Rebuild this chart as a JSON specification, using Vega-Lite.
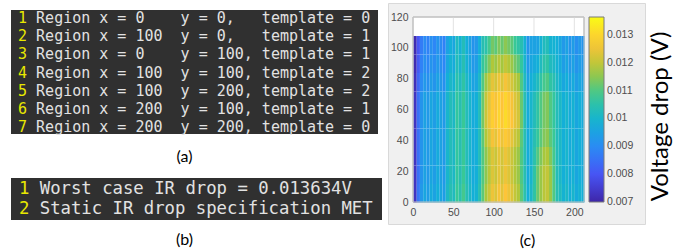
{
"$schema": "https://vega.github.io/schema/vega-lite/v6.json",
"padding": {"left": 11, "top": 2, "right": 0, "bottom": 0},
"background": "white",
"spacing": 5,
"config": {"view": {"stroke": null}, "font": "Liberation Sans"},
"resolve": {"legend": {"color": "independent"}},
"hconcat": [
{
"spacing": 14,
"vconcat": [
{
"width": 367, "height": 131,
"data": {"values": [
{"n": 1, "s": "Region x = 0\u00a0\u00a0\u00a0\u00a0y = 0,\u00a0\u00a0\u00a0template = 0"},
{"n": 2, "s": "Region x = 100\u00a0\u00a0y = 0,\u00a0\u00a0\u00a0template = 1"},
{"n": 3, "s": "Region x = 0\u00a0\u00a0\u00a0\u00a0y = 100, template = 1"},
{"n": 4, "s": "Region x = 100\u00a0\u00a0y = 100, template = 2"},
{"n": 5, "s": "Region x = 100\u00a0\u00a0y = 200, template = 2"},
{"n": 6, "s": "Region x = 200\u00a0\u00a0y = 100, template = 1"},
{"n": 7, "s": "Region x = 200\u00a0\u00a0y = 200, template = 0"}
]},
"layer": [
{"data": {"values": [{"box": 1}]},
"mark": {"type": "rect", "fill": "#303030"},
"encoding": {
"x": {"datum": -0.774, "type": "quantitative", "scale": {"domain": [-0.774, 39.82], "nice": false, "zero": false}},
"x2": {"datum": 39.82},
"y": {"datum": 0.56, "type": "quantitative", "scale": {"domain": [0.175, 7.38], "reverse": true, "nice": false, "zero": false}, "axis": null},
"y2": {"datum": 7.38}
}},
{"mark": {"type": "text", "font": "DejaVu Sans Mono", "fontSize": 15, "align": "left", "baseline": "middle", "color": "#e8e800"},
"encoding": {"text": {"field": "n", "type": "nominal"},
"y": {"field": "n", "type": "quantitative", "scale": {"domain": [0.175, 7.38], "reverse": true, "nice": false, "zero": false}, "axis": null},
"x": {"datum": 0, "type": "quantitative", "scale": {"domain": [-0.774, 39.82], "nice": false, "zero": false},
"axis": {"domain": false, "ticks": false, "labels": false, "grid": false, "title": "(a)", "titleFont": "Lato", "titleFontSize": 16, "titleFontWeight": "normal", "titleColor": "#000000", "titlePadding": 14, "titleX": 173}}}},
{"mark": {"type": "text", "font": "DejaVu Sans Mono", "fontSize": 15, "align": "left", "baseline": "middle", "color": "#e2e2e2"},
"encoding": {"text": {"field": "s", "type": "nominal"},
"y": {"field": "n", "type": "quantitative", "scale": {"domain": [0.175, 7.38], "reverse": true, "nice": false, "zero": false}, "axis": null},
"x": {"datum": 2, "type": "quantitative", "scale": {"domain": [-0.774, 39.82], "nice": false, "zero": false},
"axis": {"domain": false, "ticks": false, "labels": false, "grid": false, "title": "(a)", "titleFont": "Lato", "titleFontSize": 16, "titleFontWeight": "normal", "titleColor": "#000000", "titlePadding": 14, "titleX": 173}}}}
]
},
{
"width": 371, "height": 42,
"view": {"fill": "#303030", "stroke": null},
"data": {"values": [
{"n": 1, "s": "Worst case IR drop = 0.013634V"},
{"n": 2, "s": "Static IR drop specification MET"}
]},
"encoding": {
"y": {"field": "n", "type": "ordinal", "scale": {"type": "point", "padding": 0.6}, "axis": null}
},
"layer": [
{"mark": {"type": "text", "font": "DejaVu Sans Mono", "fontSize": 17.3, "align": "left", "baseline": "middle", "color": "#e8e800"},
"encoding": {"text": {"field": "n", "type": "nominal"},
"x": {"datum": 0, "type": "quantitative", "scale": {"domain": [-0.76, 34.88], "nice": false, "zero": false},
"axis": {"domain": false, "ticks": false, "labels": false, "grid": false, "title": "(b)", "titleFont": "Lato", "titleFontSize": 16, "titleFontWeight": "normal", "titleColor": "#000000", "titlePadding": 11, "titleX": 173}}}},
{"mark": {"type": "text", "font": "DejaVu Sans Mono", "fontSize": 17.3, "align": "left", "baseline": "middle", "color": "#e2e2e2"},
"encoding": {"text": {"field": "s", "type": "nominal"},
"x": {"datum": 2, "type": "quantitative", "scale": {"domain": [-0.76, 34.88], "nice": false, "zero": false},
"axis": {"domain": false, "ticks": false, "labels": false, "grid": false, "title": "(b)", "titleFont": "Lato", "titleFontSize": 16, "titleFontWeight": "normal", "titleColor": "#000000", "titlePadding": 11, "titleX": 173}}}}
]
}
]
},
{
"width": 257, "height": 221,
"view": {"fill": "#f0f0f0", "stroke": "#d9d9d9"},
"resolve": {"legend": {"color": "independent"}, "axis": {"y": "independent"}},
"layer": [
{
"data": {"values": [{"box": 1}]},
"mark": {"type": "rect", "fill": "white", "stroke": "#b8b8b8", "strokeWidth": 1},
"encoding": {
"x": {"datum": 0, "type": "quantitative", "scale": {"domain": [0, 212], "range": [25, 196], "nice": false, "zero": false}},
"x2": {"datum": 212},
"y": {"datum": 0, "type": "quantitative", "scale": {"domain": [0, 120], "range": [199, 14], "nice": false, "zero": false}, "axis": null},
"y2": {"datum": 120}
}
},
{
"data": {"values": [{"g": 50}, {"g": 100}, {"g": 150}, {"g": 200}]},
"mark": {"type": "rule", "color": "#e2e2e2", "strokeWidth": 1},
"encoding": {
"x": {"field": "g", "type": "quantitative", "scale": {"domain": [0, 212], "range": [25, 196], "nice": false, "zero": false}},
"y": {"datum": 0, "type": "quantitative", "scale": {"domain": [0, 120], "range": [199, 14], "nice": false, "zero": false},
"axis": {"orient": "right", "offset": 0, "domain": false, "ticks": false, "labels": false, "grid": false, "title": "Voltage drop (V)", "titleAngle": 270, "titleBaseline": "top", "titleAlign": "center", "titleFont": "Lato", "titleFontSize": 24, "titleFontWeight": "normal", "titleColor": "#000000", "titlePadding": 3, "titleY": 113}},
"y2": {"datum": 120}
}
},
{
"data": {"values": [
{"x":0,"y":0,"v":0.0073},{"x":0,"y":12,"v":0.0073},{"x":0,"y":24,"v":0.0073},{"x":0,"y":36,"v":0.0073},{"x":0,"y":48,"v":0.0073},{"x":0,"y":60,"v":0.0073},{"x":0,"y":72,"v":0.0072},{"x":0,"y":84,"v":0.0071},{"x":0,"y":96,"v":0.0071},
{"x":4,"y":0,"v":0.0086},{"x":4,"y":12,"v":0.0085},{"x":4,"y":24,"v":0.0085},{"x":4,"y":36,"v":0.0085},{"x":4,"y":48,"v":0.0085},{"x":4,"y":60,"v":0.0085},{"x":4,"y":72,"v":0.0083},{"x":4,"y":84,"v":0.0081},{"x":4,"y":96,"v":0.008},
{"x":8,"y":0,"v":0.0093},{"x":8,"y":12,"v":0.0092},{"x":8,"y":24,"v":0.0092},{"x":8,"y":36,"v":0.0092},{"x":8,"y":48,"v":0.0092},{"x":8,"y":60,"v":0.0092},{"x":8,"y":72,"v":0.009},{"x":8,"y":84,"v":0.0088},{"x":8,"y":96,"v":0.0087},
{"x":12,"y":0,"v":0.0096},{"x":12,"y":12,"v":0.0095},{"x":12,"y":24,"v":0.0095},{"x":12,"y":36,"v":0.0095},{"x":12,"y":48,"v":0.0095},{"x":12,"y":60,"v":0.0095},{"x":12,"y":72,"v":0.0093},{"x":12,"y":84,"v":0.0091},{"x":12,"y":96,"v":0.009},
{"x":16,"y":0,"v":0.0094},{"x":16,"y":12,"v":0.0093},{"x":16,"y":24,"v":0.0093},{"x":16,"y":36,"v":0.0093},{"x":16,"y":48,"v":0.0093},{"x":16,"y":60,"v":0.0093},{"x":16,"y":72,"v":0.0091},{"x":16,"y":84,"v":0.0089},{"x":16,"y":96,"v":0.0088},
{"x":20,"y":0,"v":0.0097},{"x":20,"y":12,"v":0.0096},{"x":20,"y":24,"v":0.0096},{"x":20,"y":36,"v":0.0096},{"x":20,"y":48,"v":0.0096},{"x":20,"y":60,"v":0.0096},{"x":20,"y":72,"v":0.0094},{"x":20,"y":84,"v":0.0092},{"x":20,"y":96,"v":0.0091},
{"x":24,"y":0,"v":0.0095},{"x":24,"y":12,"v":0.0094},{"x":24,"y":24,"v":0.0094},{"x":24,"y":36,"v":0.0094},{"x":24,"y":48,"v":0.0094},{"x":24,"y":60,"v":0.0094},{"x":24,"y":72,"v":0.0092},{"x":24,"y":84,"v":0.009},{"x":24,"y":96,"v":0.0089},
{"x":28,"y":0,"v":0.0098},{"x":28,"y":12,"v":0.0097},{"x":28,"y":24,"v":0.0097},{"x":28,"y":36,"v":0.0097},{"x":28,"y":48,"v":0.0097},{"x":28,"y":60,"v":0.0097},{"x":28,"y":72,"v":0.0095},{"x":28,"y":84,"v":0.0093},{"x":28,"y":96,"v":0.0092},
{"x":32,"y":0,"v":0.0096},{"x":32,"y":12,"v":0.0095},{"x":32,"y":24,"v":0.0095},{"x":32,"y":36,"v":0.0095},{"x":32,"y":48,"v":0.0095},{"x":32,"y":60,"v":0.0095},{"x":32,"y":72,"v":0.0093},{"x":32,"y":84,"v":0.0091},{"x":32,"y":96,"v":0.009},
{"x":36,"y":0,"v":0.0094},{"x":36,"y":12,"v":0.0093},{"x":36,"y":24,"v":0.0093},{"x":36,"y":36,"v":0.0093},{"x":36,"y":48,"v":0.0093},{"x":36,"y":60,"v":0.0093},{"x":36,"y":72,"v":0.0091},{"x":36,"y":84,"v":0.0089},{"x":36,"y":96,"v":0.0088},
{"x":40,"y":0,"v":0.0101},{"x":40,"y":12,"v":0.01},{"x":40,"y":24,"v":0.01},{"x":40,"y":36,"v":0.01},{"x":40,"y":48,"v":0.01},{"x":40,"y":60,"v":0.01},{"x":40,"y":72,"v":0.0098},{"x":40,"y":84,"v":0.0096},{"x":40,"y":96,"v":0.0095},
{"x":44,"y":0,"v":0.0104},{"x":44,"y":12,"v":0.0103},{"x":44,"y":24,"v":0.0103},{"x":44,"y":36,"v":0.0103},{"x":44,"y":48,"v":0.0103},{"x":44,"y":60,"v":0.0103},{"x":44,"y":72,"v":0.0101},{"x":44,"y":84,"v":0.0099},{"x":44,"y":96,"v":0.0098},
{"x":48,"y":0,"v":0.0102},{"x":48,"y":12,"v":0.0101},{"x":48,"y":24,"v":0.0101},{"x":48,"y":36,"v":0.0101},{"x":48,"y":48,"v":0.0101},{"x":48,"y":60,"v":0.0101},{"x":48,"y":72,"v":0.0099},{"x":48,"y":84,"v":0.0097},{"x":48,"y":96,"v":0.0096},
{"x":52,"y":0,"v":0.0108},{"x":52,"y":12,"v":0.0107},{"x":52,"y":24,"v":0.0107},{"x":52,"y":36,"v":0.0107},{"x":52,"y":48,"v":0.0107},{"x":52,"y":60,"v":0.0107},{"x":52,"y":72,"v":0.0105},{"x":52,"y":84,"v":0.0103},{"x":52,"y":96,"v":0.0102},
{"x":56,"y":0,"v":0.0105},{"x":56,"y":12,"v":0.0104},{"x":56,"y":24,"v":0.0104},{"x":56,"y":36,"v":0.0104},{"x":56,"y":48,"v":0.0104},{"x":56,"y":60,"v":0.0104},{"x":56,"y":72,"v":0.0102},{"x":56,"y":84,"v":0.01},{"x":56,"y":96,"v":0.0099},
{"x":60,"y":0,"v":0.0109},{"x":60,"y":12,"v":0.0108},{"x":60,"y":24,"v":0.0108},{"x":60,"y":36,"v":0.0108},{"x":60,"y":48,"v":0.0108},{"x":60,"y":60,"v":0.0108},{"x":60,"y":72,"v":0.0106},{"x":60,"y":84,"v":0.0104},{"x":60,"y":96,"v":0.0103},
{"x":64,"y":0,"v":0.0104},{"x":64,"y":12,"v":0.0103},{"x":64,"y":24,"v":0.0103},{"x":64,"y":36,"v":0.0103},{"x":64,"y":48,"v":0.0103},{"x":64,"y":60,"v":0.0103},{"x":64,"y":72,"v":0.0101},{"x":64,"y":84,"v":0.0099},{"x":64,"y":96,"v":0.0098},
{"x":68,"y":0,"v":0.0101},{"x":68,"y":12,"v":0.01},{"x":68,"y":24,"v":0.01},{"x":68,"y":36,"v":0.01},{"x":68,"y":48,"v":0.01},{"x":68,"y":60,"v":0.01},{"x":68,"y":72,"v":0.0098},{"x":68,"y":84,"v":0.0096},{"x":68,"y":96,"v":0.0095},
{"x":72,"y":0,"v":0.0098},{"x":72,"y":12,"v":0.0097},{"x":72,"y":24,"v":0.0097},{"x":72,"y":36,"v":0.0097},{"x":72,"y":48,"v":0.0097},{"x":72,"y":60,"v":0.0097},{"x":72,"y":72,"v":0.0095},{"x":72,"y":84,"v":0.0093},{"x":72,"y":96,"v":0.0092},
{"x":76,"y":0,"v":0.0099},{"x":76,"y":12,"v":0.0098},{"x":76,"y":24,"v":0.0098},{"x":76,"y":36,"v":0.0098},{"x":76,"y":48,"v":0.0098},{"x":76,"y":60,"v":0.0098},{"x":76,"y":72,"v":0.0096},{"x":76,"y":84,"v":0.0094},{"x":76,"y":96,"v":0.0093},
{"x":80,"y":0,"v":0.0104},{"x":80,"y":12,"v":0.0103},{"x":80,"y":24,"v":0.0103},{"x":80,"y":36,"v":0.0103},{"x":80,"y":48,"v":0.0103},{"x":80,"y":60,"v":0.0103},{"x":80,"y":72,"v":0.0101},{"x":80,"y":84,"v":0.0099},{"x":80,"y":96,"v":0.0098},
{"x":84,"y":0,"v":0.0111},{"x":84,"y":12,"v":0.011},{"x":84,"y":24,"v":0.011},{"x":84,"y":36,"v":0.0111},{"x":84,"y":48,"v":0.0113},{"x":84,"y":60,"v":0.0112},{"x":84,"y":72,"v":0.011},{"x":84,"y":84,"v":0.0107},{"x":84,"y":96,"v":0.0104},
{"x":88,"y":0,"v":0.0117},{"x":88,"y":12,"v":0.0115},{"x":88,"y":24,"v":0.0115},{"x":88,"y":36,"v":0.0118},{"x":88,"y":48,"v":0.0121},{"x":88,"y":60,"v":0.012},{"x":88,"y":72,"v":0.0116},{"x":88,"y":84,"v":0.011},{"x":88,"y":96,"v":0.0105},
{"x":92,"y":0,"v":0.0121},{"x":92,"y":12,"v":0.0119},{"x":92,"y":24,"v":0.0119},{"x":92,"y":36,"v":0.0122},{"x":92,"y":48,"v":0.0125},{"x":92,"y":60,"v":0.0124},{"x":92,"y":72,"v":0.012},{"x":92,"y":84,"v":0.0114},{"x":92,"y":96,"v":0.0109},
{"x":96,"y":0,"v":0.0125},{"x":96,"y":12,"v":0.0123},{"x":96,"y":24,"v":0.0123},{"x":96,"y":36,"v":0.0126},{"x":96,"y":48,"v":0.0129},{"x":96,"y":60,"v":0.0128},{"x":96,"y":72,"v":0.0124},{"x":96,"y":84,"v":0.0118},{"x":96,"y":96,"v":0.0113},
{"x":100,"y":0,"v":0.0123},{"x":100,"y":12,"v":0.0121},{"x":100,"y":24,"v":0.0121},{"x":100,"y":36,"v":0.0124},{"x":100,"y":48,"v":0.0127},{"x":100,"y":60,"v":0.0126},{"x":100,"y":72,"v":0.0122},{"x":100,"y":84,"v":0.0116},{"x":100,"y":96,"v":0.0111},
{"x":104,"y":0,"v":0.0126},{"x":104,"y":12,"v":0.0124},{"x":104,"y":24,"v":0.0124},{"x":104,"y":36,"v":0.0127},{"x":104,"y":48,"v":0.013},{"x":104,"y":60,"v":0.0129},{"x":104,"y":72,"v":0.0125},{"x":104,"y":84,"v":0.0119},{"x":104,"y":96,"v":0.0114},
{"x":108,"y":0,"v":0.0124},{"x":108,"y":12,"v":0.0122},{"x":108,"y":24,"v":0.0122},{"x":108,"y":36,"v":0.0125},{"x":108,"y":48,"v":0.0128},{"x":108,"y":60,"v":0.0127},{"x":108,"y":72,"v":0.0123},{"x":108,"y":84,"v":0.0117},{"x":108,"y":96,"v":0.0112},
{"x":112,"y":0,"v":0.0127},{"x":112,"y":12,"v":0.0125},{"x":112,"y":24,"v":0.0125},{"x":112,"y":36,"v":0.0128},{"x":112,"y":48,"v":0.0131},{"x":112,"y":60,"v":0.013},{"x":112,"y":72,"v":0.0126},{"x":112,"y":84,"v":0.012},{"x":112,"y":96,"v":0.0115},
{"x":116,"y":0,"v":0.0125},{"x":116,"y":12,"v":0.0123},{"x":116,"y":24,"v":0.0123},{"x":116,"y":36,"v":0.0126},{"x":116,"y":48,"v":0.0129},{"x":116,"y":60,"v":0.0128},{"x":116,"y":72,"v":0.0124},{"x":116,"y":84,"v":0.0118},{"x":116,"y":96,"v":0.0113},
{"x":120,"y":0,"v":0.0123},{"x":120,"y":12,"v":0.0121},{"x":120,"y":24,"v":0.0121},{"x":120,"y":36,"v":0.0124},{"x":120,"y":48,"v":0.0127},{"x":120,"y":60,"v":0.0126},{"x":120,"y":72,"v":0.0122},{"x":120,"y":84,"v":0.0116},{"x":120,"y":96,"v":0.0111},
{"x":124,"y":0,"v":0.012},{"x":124,"y":12,"v":0.0118},{"x":124,"y":24,"v":0.0118},{"x":124,"y":36,"v":0.0121},{"x":124,"y":48,"v":0.0124},{"x":124,"y":60,"v":0.0123},{"x":124,"y":72,"v":0.0119},{"x":124,"y":84,"v":0.0113},{"x":124,"y":96,"v":0.0108},
{"x":128,"y":0,"v":0.0118},{"x":128,"y":12,"v":0.0116},{"x":128,"y":24,"v":0.0116},{"x":128,"y":36,"v":0.0119},{"x":128,"y":48,"v":0.0122},{"x":128,"y":60,"v":0.0121},{"x":128,"y":72,"v":0.0117},{"x":128,"y":84,"v":0.0111},{"x":128,"y":96,"v":0.0106},
{"x":132,"y":0,"v":0.0111},{"x":132,"y":12,"v":0.011},{"x":132,"y":24,"v":0.011},{"x":132,"y":36,"v":0.0111},{"x":132,"y":48,"v":0.0113},{"x":132,"y":60,"v":0.0112},{"x":132,"y":72,"v":0.011},{"x":132,"y":84,"v":0.0107},{"x":132,"y":96,"v":0.0104},
{"x":136,"y":0,"v":0.0105},{"x":136,"y":12,"v":0.0104},{"x":136,"y":24,"v":0.0104},{"x":136,"y":36,"v":0.0104},{"x":136,"y":48,"v":0.0104},{"x":136,"y":60,"v":0.0104},{"x":136,"y":72,"v":0.0102},{"x":136,"y":84,"v":0.01},{"x":136,"y":96,"v":0.0099},
{"x":140,"y":0,"v":0.0098},{"x":140,"y":12,"v":0.0097},{"x":140,"y":24,"v":0.0097},{"x":140,"y":36,"v":0.0097},{"x":140,"y":48,"v":0.0097},{"x":140,"y":60,"v":0.0097},{"x":140,"y":72,"v":0.0095},{"x":140,"y":84,"v":0.0093},{"x":140,"y":96,"v":0.0092},
{"x":144,"y":0,"v":0.0101},{"x":144,"y":12,"v":0.01},{"x":144,"y":24,"v":0.01},{"x":144,"y":36,"v":0.01},{"x":144,"y":48,"v":0.01},{"x":144,"y":60,"v":0.01},{"x":144,"y":72,"v":0.0098},{"x":144,"y":84,"v":0.0096},{"x":144,"y":96,"v":0.0095},
{"x":148,"y":0,"v":0.0106},{"x":148,"y":12,"v":0.0106},{"x":148,"y":24,"v":0.0105},{"x":148,"y":36,"v":0.0104},{"x":148,"y":48,"v":0.0103},{"x":148,"y":60,"v":0.0103},{"x":148,"y":72,"v":0.01},{"x":148,"y":84,"v":0.0097},{"x":148,"y":96,"v":0.0095},
{"x":152,"y":0,"v":0.0112},{"x":152,"y":12,"v":0.0112},{"x":152,"y":24,"v":0.011},{"x":152,"y":36,"v":0.0107},{"x":152,"y":48,"v":0.0106},{"x":152,"y":60,"v":0.0106},{"x":152,"y":72,"v":0.0102},{"x":152,"y":84,"v":0.0098},{"x":152,"y":96,"v":0.0095},
{"x":156,"y":0,"v":0.0116},{"x":156,"y":12,"v":0.0116},{"x":156,"y":24,"v":0.0114},{"x":156,"y":36,"v":0.0111},{"x":156,"y":48,"v":0.011},{"x":156,"y":60,"v":0.011},{"x":156,"y":72,"v":0.0106},{"x":156,"y":84,"v":0.0102},{"x":156,"y":96,"v":0.0099},
{"x":160,"y":0,"v":0.0119},{"x":160,"y":12,"v":0.0119},{"x":160,"y":24,"v":0.0117},{"x":160,"y":36,"v":0.0114},{"x":160,"y":48,"v":0.0113},{"x":160,"y":60,"v":0.0113},{"x":160,"y":72,"v":0.0109},{"x":160,"y":84,"v":0.0105},{"x":160,"y":96,"v":0.0102},
{"x":164,"y":0,"v":0.012},{"x":164,"y":12,"v":0.012},{"x":164,"y":24,"v":0.0118},{"x":164,"y":36,"v":0.0115},{"x":164,"y":48,"v":0.0114},{"x":164,"y":60,"v":0.0114},{"x":164,"y":72,"v":0.011},{"x":164,"y":84,"v":0.0106},{"x":164,"y":96,"v":0.0103},
{"x":168,"y":0,"v":0.0116},{"x":168,"y":12,"v":0.0116},{"x":168,"y":24,"v":0.0114},{"x":168,"y":36,"v":0.0111},{"x":168,"y":48,"v":0.011},{"x":168,"y":60,"v":0.011},{"x":168,"y":72,"v":0.0106},{"x":168,"y":84,"v":0.0102},{"x":168,"y":96,"v":0.0099},
{"x":172,"y":0,"v":0.011},{"x":172,"y":12,"v":0.011},{"x":172,"y":24,"v":0.0109},{"x":172,"y":36,"v":0.0108},{"x":172,"y":48,"v":0.0107},{"x":172,"y":60,"v":0.0107},{"x":172,"y":72,"v":0.0104},{"x":172,"y":84,"v":0.0101},{"x":172,"y":96,"v":0.0099},
{"x":176,"y":0,"v":0.0104},{"x":176,"y":12,"v":0.0103},{"x":176,"y":24,"v":0.0103},{"x":176,"y":36,"v":0.0103},{"x":176,"y":48,"v":0.0103},{"x":176,"y":60,"v":0.0103},{"x":176,"y":72,"v":0.0101},{"x":176,"y":84,"v":0.0099},{"x":176,"y":96,"v":0.0098},
{"x":180,"y":0,"v":0.0102},{"x":180,"y":12,"v":0.0101},{"x":180,"y":24,"v":0.0101},{"x":180,"y":36,"v":0.0101},{"x":180,"y":48,"v":0.0101},{"x":180,"y":60,"v":0.0101},{"x":180,"y":72,"v":0.0099},{"x":180,"y":84,"v":0.0097},{"x":180,"y":96,"v":0.0096},
{"x":184,"y":0,"v":0.0099},{"x":184,"y":12,"v":0.0098},{"x":184,"y":24,"v":0.0098},{"x":184,"y":36,"v":0.0098},{"x":184,"y":48,"v":0.0098},{"x":184,"y":60,"v":0.0098},{"x":184,"y":72,"v":0.0096},{"x":184,"y":84,"v":0.0094},{"x":184,"y":96,"v":0.0093},
{"x":188,"y":0,"v":0.0101},{"x":188,"y":12,"v":0.01},{"x":188,"y":24,"v":0.01},{"x":188,"y":36,"v":0.01},{"x":188,"y":48,"v":0.01},{"x":188,"y":60,"v":0.01},{"x":188,"y":72,"v":0.0098},{"x":188,"y":84,"v":0.0096},{"x":188,"y":96,"v":0.0095},
{"x":192,"y":0,"v":0.0098},{"x":192,"y":12,"v":0.0097},{"x":192,"y":24,"v":0.0097},{"x":192,"y":36,"v":0.0097},{"x":192,"y":48,"v":0.0097},{"x":192,"y":60,"v":0.0097},{"x":192,"y":72,"v":0.0095},{"x":192,"y":84,"v":0.0093},{"x":192,"y":96,"v":0.0092},
{"x":196,"y":0,"v":0.01},{"x":196,"y":12,"v":0.0099},{"x":196,"y":24,"v":0.0099},{"x":196,"y":36,"v":0.0099},{"x":196,"y":48,"v":0.0099},{"x":196,"y":60,"v":0.0099},{"x":196,"y":72,"v":0.0097},{"x":196,"y":84,"v":0.0095},{"x":196,"y":96,"v":0.0094},
{"x":200,"y":0,"v":0.0097},{"x":200,"y":12,"v":0.0096},{"x":200,"y":24,"v":0.0096},{"x":200,"y":36,"v":0.0096},{"x":200,"y":48,"v":0.0096},{"x":200,"y":60,"v":0.0096},{"x":200,"y":72,"v":0.0094},{"x":200,"y":84,"v":0.0092},{"x":200,"y":96,"v":0.0091},
{"x":204,"y":0,"v":0.0099},{"x":204,"y":12,"v":0.0098},{"x":204,"y":24,"v":0.0098},{"x":204,"y":36,"v":0.0098},{"x":204,"y":48,"v":0.0098},{"x":204,"y":60,"v":0.0098},{"x":204,"y":72,"v":0.0096},{"x":204,"y":84,"v":0.0094},{"x":204,"y":96,"v":0.0093},
{"x":208,"y":0,"v":0.0098},{"x":208,"y":12,"v":0.0097},{"x":208,"y":24,"v":0.0097},{"x":208,"y":36,"v":0.0097},{"x":208,"y":48,"v":0.0097},{"x":208,"y":60,"v":0.0097},{"x":208,"y":72,"v":0.0095},{"x":208,"y":84,"v":0.0093},{"x":208,"y":96,"v":0.0092}
]},
"mark": {"type": "rect", "binSpacing": 0},
"encoding": {
"x": {"field": "x", "type": "quantitative", "bin": {"binned": true, "step": 4},
"scale": {"domain": [0, 212], "range": [25, 196], "nice": false, "zero": false},
"axis": {"values": [0, 50, 100, 150, 200], "offset": -22, "domain": false, "ticks": false, "grid": false, "labelFlush": false, "labelPadding": 5, "labelFont": "Liberation Sans", "labelFontSize": 10.5, "labelColor": "#4d4d4d", "title": "(c)", "titleFont": "Lato", "titleFontSize": 16, "titleFontWeight": "normal", "titleColor": "#000000", "titlePadding": 15, "titleX": 139}},
"y": {"field": "y", "type": "quantitative", "bin": {"binned": true, "step": 12},
"scale": {"domain": [0, 120], "range": [199, 14], "nice": false, "zero": false},
"axis": {"values": [0, 20, 40, 60, 80, 100, 120], "offset": -25, "domain": false, "ticks": false, "grid": false, "labelFlush": false, "labelPadding": 5, "labelFont": "Liberation Sans", "labelFontSize": 10.5, "labelColor": "#4d4d4d", "title": null}},
"color": {"field": "v", "type": "quantitative",
"scale": {"domain": [0.007, 0.007949, 0.008897, 0.009846, 0.010794, 0.011743, 0.012691, 0.01364], "range": ["#3e26a8", "#4852f4", "#2d87f7", "#12b1d6", "#37c897", "#abc739", "#fec338", "#f9fb15"], "interpolate": "rgb"},
"legend": {"type": "gradient", "orient": "none", "legendX": 201, "legendY": 14, "title": null, "direction": "vertical", "gradientLength": 185, "gradientThickness": 15, "values": [0.007, 0.008, 0.009, 0.01, 0.011, 0.012, 0.013], "format": ".3~f", "labelFont": "Liberation Sans", "labelFontSize": 10.5, "labelColor": "#4d4d4d", "labelOffset": 3, "labelOverlap": false, "gradientStrokeColor": "#7a7a7a", "gradientStrokeWidth": 1, "padding": 0, "encode": {"labels": {"update": {"baseline": {"value": "middle"}}}}}}
}
},
{
"data": {"values": [{"box": 1}]},
"mark": {"type": "rect", "filled": false, "stroke": "#c4c4c4", "strokeWidth": 1},
"encoding": {
"x": {"datum": 0, "type": "quantitative", "scale": {"domain": [0, 212], "range": [25, 196], "nice": false, "zero": false}},
"x2": {"datum": 212},
"y": {"datum": 0, "type": "quantitative", "scale": {"domain": [0, 120], "range": [199, 14], "nice": false, "zero": false}, "axis": null},
"y2": {"datum": 120}
}
}
]
}
]
}
